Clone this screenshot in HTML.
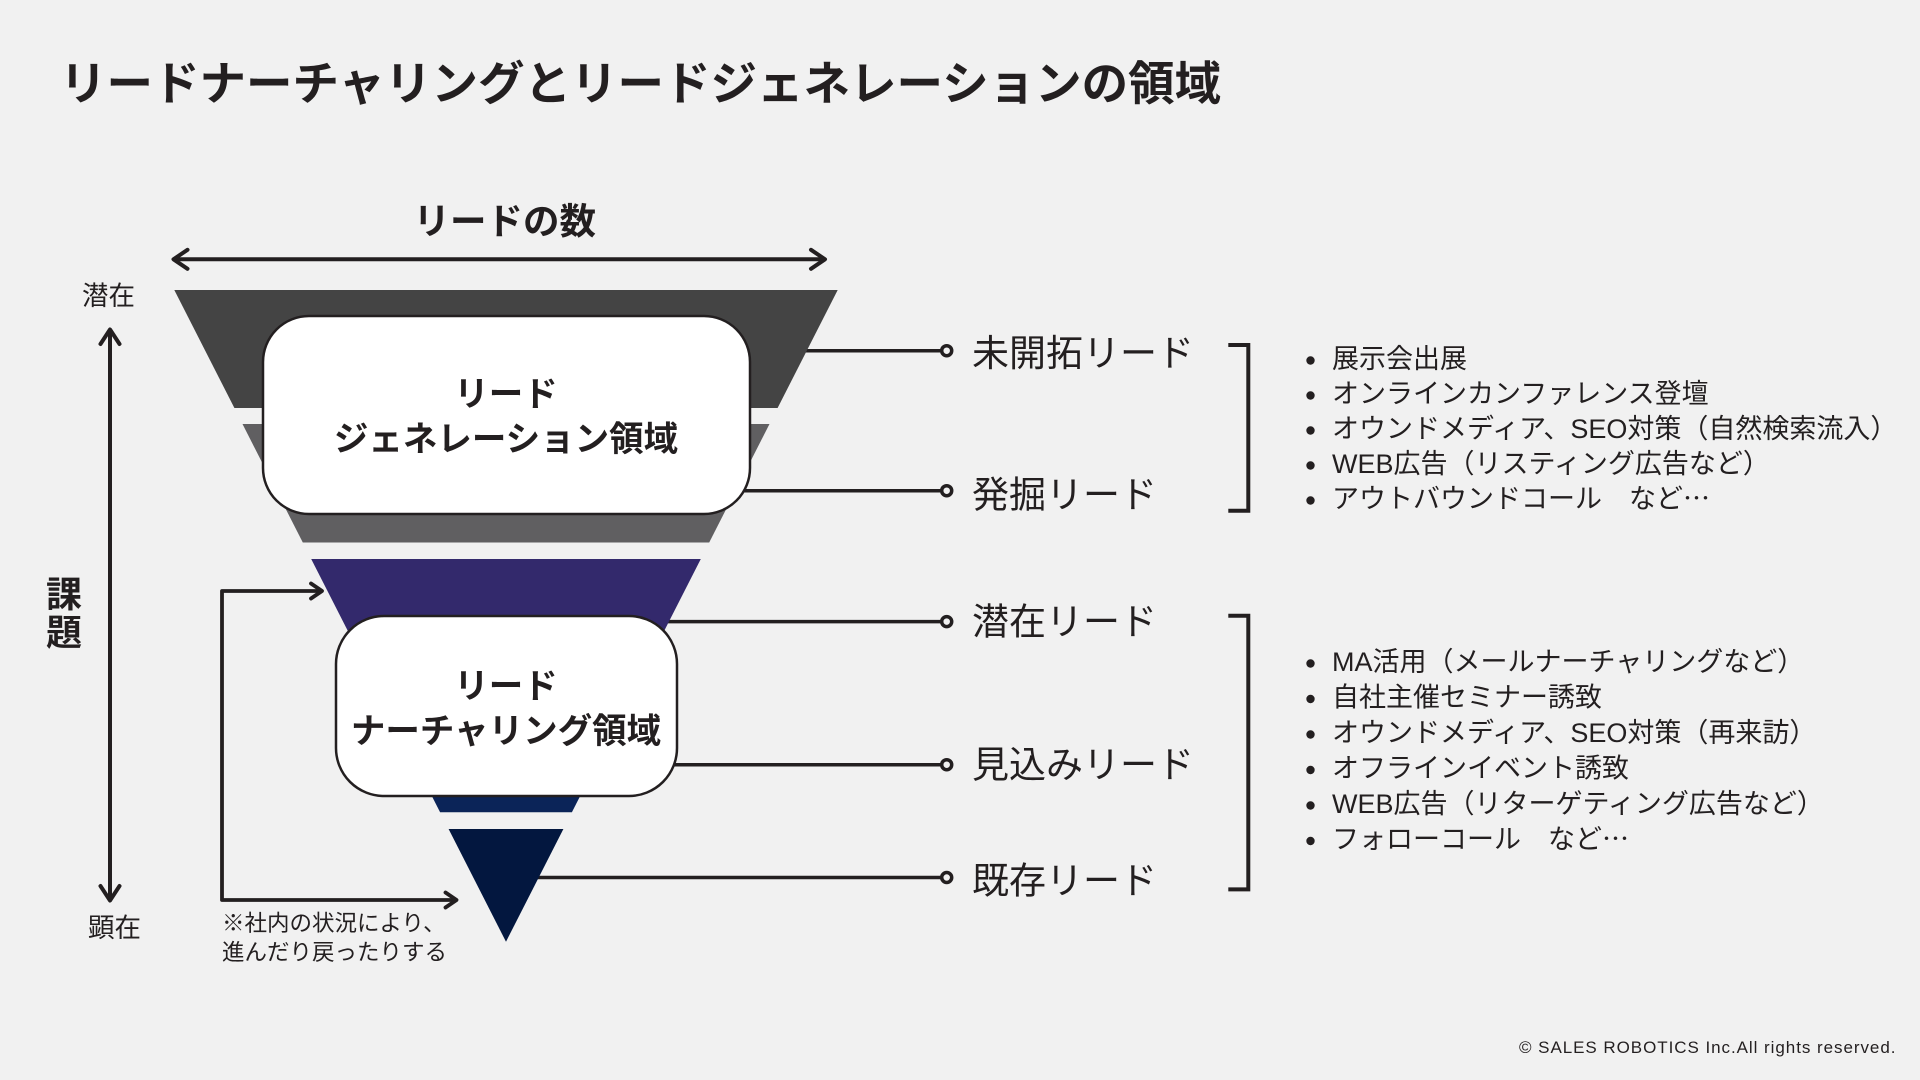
<!DOCTYPE html>
<html lang="ja">
<head>
<meta charset="utf-8">
<style>
  html,body{margin:0;padding:0;background:#f1f1f1;}
  body{width:1920px;height:1080px;overflow:hidden;}
  svg{display:block;}
  text{font-family:"Liberation Sans","Noto Sans CJK JP",sans-serif;fill:#231f20;}
  .cjk{font-family:"Noto Sans CJK JP",sans-serif;}
</style>
</head>
<body>
<svg width="1920" height="1080" viewBox="0 0 1920 1080" xmlns="http://www.w3.org/2000/svg">
  <rect x="0" y="0" width="1920" height="1080" fill="#f1f1f1"/>

  <!-- Title -->
  <text x="60" y="100" font-size="46.5" font-weight="700">リードナーチャリングとリードジェネレーションの領域</text>

  <!-- リードの数 -->
  <text x="413.5" y="234" font-size="36.5" font-weight="700">リードの数</text>

  <!-- horizontal double arrow -->
  <g stroke="#231f20" stroke-width="4" fill="none" stroke-linecap="round" stroke-linejoin="round">
    <line x1="175" y1="259.3" x2="823" y2="259.3"/>
    <polyline points="187.5,249.8 173.5,259.3 187.5,268.8"/>
    <polyline points="811,249.8 825,259.3 811,268.8"/>
  </g>

  <!-- vertical double arrow -->
  <g stroke="#231f20" stroke-width="4" fill="none" stroke-linecap="round" stroke-linejoin="round">
    <line x1="110" y1="331" x2="110" y2="898"/>
    <polyline points="100.5,344 110,329.5 119.5,344"/>
    <polyline points="100.5,886 110,900.5 119.5,886"/>
  </g>

  <!-- 潜在 / 顕在 / 課題 -->
  <text x="82" y="305" font-size="26.5">潜在</text>
  <text x="88" y="937" font-size="26.5">顕在</text>
  <text x="64" y="607" font-size="36" font-weight="700" text-anchor="middle">課</text>
  <text x="64" y="645" font-size="36" font-weight="700" text-anchor="middle">題</text>

  <!-- connector lines (drawn under funnel) -->
  <g stroke="#231f20" stroke-width="3.5" fill="none">
    <line x1="506" y1="350.7" x2="941.7" y2="350.7"/>
    <line x1="506" y1="490.7" x2="941.7" y2="490.7"/>
    <line x1="506" y1="621.6" x2="941.7" y2="621.6"/>
    <line x1="506" y1="764.7" x2="941.7" y2="764.7"/>
    <line x1="506" y1="877.5" x2="941.7" y2="877.5"/>
  </g>
  <g stroke="#231f20" stroke-width="3.5" fill="#f1f1f1">
    <circle cx="946.7" cy="350.7" r="5"/>
    <circle cx="946.7" cy="490.7" r="5"/>
    <circle cx="946.7" cy="621.6" r="5"/>
    <circle cx="946.7" cy="764.7" r="5"/>
    <circle cx="946.7" cy="877.5" r="5"/>
  </g>

  <!-- funnel layers -->
  <polygon points="174.3,290 837.7,290 777.6,408 234.4,408" fill="#444444"/>
  <polygon points="242.5,424 769.5,424 709.2,542.5 302.8,542.5" fill="#605f61"/>
  <polygon points="311.2,559 700.8,559 640.7,677 371.3,677" fill="#33296c"/>
  <polygon points="379.9,694 632.1,694 571.9,812.3 440.1,812.3" fill="#0b2458"/>
  <polygon points="448.6,829 563.4,829 506,941.7" fill="#03173f"/>

  <!-- box 1 -->
  <rect x="263" y="316" width="487" height="198" rx="46" ry="46" fill="#ffffff" stroke="#231f20" stroke-width="2.5"/>
  <text x="506" y="406" font-size="34.5" font-weight="700" text-anchor="middle">リード</text>
  <text x="506" y="451" font-size="34.5" font-weight="700" text-anchor="middle">ジェネレーション領域</text>

  <!-- box 2 -->
  <rect x="336" y="616" width="341" height="180" rx="48" ry="48" fill="#ffffff" stroke="#231f20" stroke-width="2.5"/>
  <text x="506" y="698" font-size="34.5" font-weight="700" text-anchor="middle">リード</text>
  <text x="506" y="743" font-size="34.5" font-weight="700" text-anchor="middle">ナーチャリング領域</text>

  <!-- loop arrow -->
  <g stroke="#231f20" stroke-width="3.8" fill="none" stroke-linecap="round" stroke-linejoin="round">
    <polyline points="320,591 222,591 222,900 455,900"/>
    <polyline points="311,583.5 322,591 311,598.5"/>
    <polyline points="445.5,892.5 456.5,900 445.5,907.5"/>
  </g>
  <text x="222" y="931" font-size="22.5">※社内の状況により、</text>
  <text x="222" y="960" font-size="22.5">進んだり戻ったりする</text>

  <!-- right labels -->
  <text x="972" y="366" font-size="37">未開拓リード</text>
  <text x="972" y="507.5" font-size="37">発掘リード</text>
  <text x="972" y="634.5" font-size="37">潜在リード</text>
  <text x="972" y="777.5" font-size="37">見込みリード</text>
  <text x="972" y="893.5" font-size="37">既存リード</text>

  <!-- brackets -->
  <g stroke="#231f20" stroke-width="4" fill="none" stroke-linejoin="miter">
    <polyline points="1228.3,345 1248.3,345 1248.3,510.7 1228.3,510.7"/>
    <polyline points="1228.3,615.7 1248.3,615.7 1248.3,889.4 1228.3,889.4"/>
  </g>

  <!-- bullets group 1 -->
  <g fill="#231f20">
    <circle cx="1310.5" cy="360.5" r="4.2"/>
    <circle cx="1310.5" cy="395.5" r="4.2"/>
    <circle cx="1310.5" cy="430.5" r="4.2"/>
    <circle cx="1310.5" cy="465.5" r="4.2"/>
    <circle cx="1310.5" cy="500.5" r="4.2"/>
  </g>
  <text x="1332" y="368" font-size="27">展示会出展</text>
  <text x="1332" y="403" font-size="27">オンラインカンファレンス登壇</text>
  <text x="1332" y="438" font-size="27">オウンドメディア、SEO対策（自然検索流入）</text>
  <text x="1332" y="473" font-size="27">WEB広告（リスティング広告など）</text>
  <text x="1332" y="508" font-size="27">アウトバウンドコール　など<tspan class="cjk">…</tspan></text>

  <!-- bullets group 2 -->
  <g fill="#231f20">
    <circle cx="1310.5" cy="663.5" r="4.2"/>
    <circle cx="1310.5" cy="699" r="4.2"/>
    <circle cx="1310.5" cy="734.5" r="4.2"/>
    <circle cx="1310.5" cy="770" r="4.2"/>
    <circle cx="1310.5" cy="805.5" r="4.2"/>
    <circle cx="1310.5" cy="841" r="4.2"/>
  </g>
  <text x="1332" y="671" font-size="27">MA活用（メールナーチャリングなど）</text>
  <text x="1332" y="706.5" font-size="27">自社主催セミナー誘致</text>
  <text x="1332" y="742" font-size="27">オウンドメディア、SEO対策（再来訪）</text>
  <text x="1332" y="777.5" font-size="27">オフラインイベント誘致</text>
  <text x="1332" y="813" font-size="27">WEB広告（リターゲティング広告など）</text>
  <text x="1332" y="848.5" font-size="27">フォローコール　など<tspan class="cjk">…</tspan></text>

  <!-- copyright -->
  <text x="1519" y="1053" font-size="17" letter-spacing="0.95">© SALES ROBOTICS Inc.All rights reserved.</text>
</svg>
</body>
</html>
